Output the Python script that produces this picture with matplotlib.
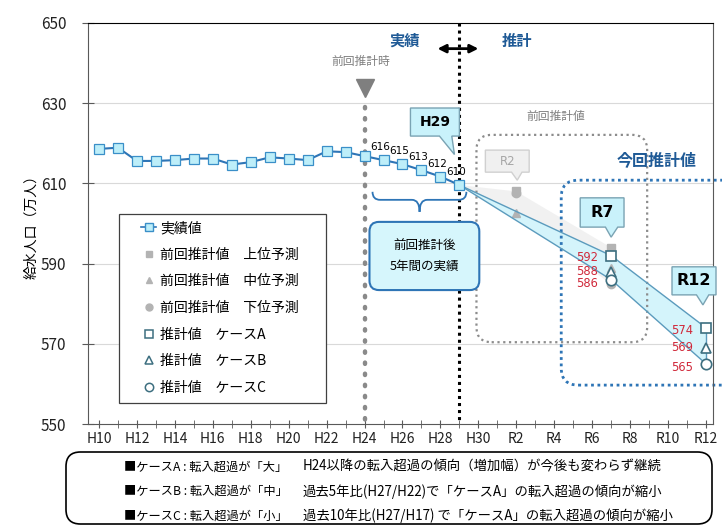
import numpy as np
import matplotlib.pyplot as plt
from matplotlib.patches import FancyBboxPatch, Polygon, PathPatch, Rectangle
from matplotlib.path import Path
from matplotlib.lines import Line2D

plt.rcParams['font.family'] = ['Noto Sans CJK JP', 'DejaVu Sans']

# actual values (H10 - H29)
actual_years = list(range(10, 30))
actual_vals = [618.6, 618.9, 615.6, 615.6, 615.8, 616.2, 616.2, 614.7, 615.3, 616.5,
               616.2, 615.8, 618.0, 617.8, 616.8, 615.8, 614.8, 613.3, 611.7, 609.6]
label_years = [25, 26, 27, 28, 29]
label_texts = ['616', '615', '613', '612', '610']

# previous estimate (R2, R7)
prev_years = [32, 37]
prev_upper = [608.0, 594.0]
prev_middle = [602.7, 588.8]
prev_lower = [607.6, 584.8]

# current estimate (start from H29 actual, R7, R12)
est_years = [29, 37, 42]
case_a = [609.6, 592, 574]
case_b = [609.6, 588, 569]
case_c = [609.6, 586, 565]

tick_pos = list(range(10, 43, 2))
tick_labels = ['H10', 'H12', 'H14', 'H16', 'H18', 'H20', 'H22', 'H24', 'H26', 'H28', 'H30',
               'R2', 'R4', 'R6', 'R8', 'R10', 'R12']

blue = '#2e75b6'
dark_blue = '#1f5a96'
cyan_fill = '#d4f4fb'
edge_teal = '#3d6f80'
red = '#d0283a'

fig = plt.figure(figsize=(7.22, 5.26), dpi=100)
ax = fig.add_axes([0.1219, 0.1939, 0.8656, 0.7624])
ax.set_xlim(9.42, 42.37)
ax.set_ylim(550, 650)

ax.set_yticks([550, 570, 590, 610, 630, 650])
ax.set_xticks(tick_pos)
ax.set_xticklabels(tick_labels)
ax.set_xticks(range(10, 43), minor=True)
ax.tick_params(axis='y', direction='inout', length=9, labelsize=11, pad=11, colors='#595959', labelcolor='#222222')
ax.tick_params(axis='x', which='both', direction='inout', length=6, labelsize=10, pad=3, colors='#595959', labelcolor='#222222')
for y in [570, 590, 610, 630]:
    ax.axhline(y, color='#d9d9d9', lw=0.8, zorder=0)
for s in ['left', 'bottom', 'right']:
    ax.spines[s].set_color('#595959')
ax.spines['top'].set_color('black')
ax.set_ylabel('給水人口（万人）', fontsize=10, labelpad=2)

# vertical reference lines
ax.plot([24, 24], [629, 550], color='#8a8a8a', lw=3.2, ls=(0, (0.3, 2.2)), solid_capstyle='round',
        dash_capstyle='round', zorder=2)
ax.plot([24.05], [633.8], marker='v', ms=13, color='#7f7f7f', zorder=3)
ax.text(23.8, 640.3, '前回推計時', fontsize=8.5, color='#7f7f7f', ha='center', va='center')
ax.plot([29, 29], [650, 550], color='black', lw=2.2, ls=(0, (1, 1.3)), zorder=4)

ax.text(26.1, 645.5, '実績', fontsize=11, color=dark_blue, fontweight='bold', ha='center', va='center')
ax.text(32.05, 645.5, '推計', fontsize=11, color=dark_blue, fontweight='bold', ha='center', va='center')
ax.annotate('', xy=(30.15, 643.6), xytext=(27.7, 643.6),
            arrowprops=dict(arrowstyle='<|-|>', lw=2, color='black', mutation_scale=12))

# previous estimate band + points
ax.fill([29] + prev_years + prev_years[::-1] + [29],
        [case_a[0]] + prev_upper + [prev_lower[1], prev_middle[0]] + [case_a[0]],
        color='#eeeeee', alpha=0.8, zorder=1, lw=0)
ax.plot(prev_years, prev_upper, 's', ms=6, color='#b3b3b3', zorder=3)
ax.plot(prev_years, prev_middle, '^', ms=6, color='#b3b3b3', zorder=3)
ax.plot(prev_years, prev_lower, 'o', ms=6, color='#b3b3b3', zorder=3)

# current estimate band
ax.fill(est_years + est_years[::-1], case_a + case_c[::-1], color=cyan_fill, zorder=2, lw=0)
ax.plot(est_years, case_a, color='#5b9bbd', lw=1, zorder=3)
ax.plot(est_years, case_c, color='#5b9bbd', lw=1, zorder=3)
ax.plot([est_years[-1]] * 2, [case_a[-1], case_c[-1]], color='#5b9bbd', lw=1, zorder=3)
ax.plot(est_years[1:], case_a[1:], 's', ms=7.5, mfc='white', mec=edge_teal, mew=1.2, zorder=5)
ax.plot(est_years[1:], case_b[1:], '^', ms=7.5, mfc='white', mec=edge_teal, mew=1.2, zorder=5)
ax.plot(est_years[1:], case_c[1:], 'o', ms=7.5, mfc='white', mec=edge_teal, mew=1.2, zorder=5)
for vals, dy in [(case_a, -0.6), (case_b, 0), (case_c, -0.9)]:
    for x, v in zip(est_years[1:], vals[1:]):
        ax.text(x - 0.7, v + dy, f'{v:.0f}', fontsize=8.3, color=red, ha='right', va='center', zorder=6,
                family='DejaVu Sans')

# actual series
ax.plot(actual_years, actual_vals, color=blue, lw=1.5, marker='s', ms=6.5, mfc='#bdeef9', mec='#3a8fc8',
        mew=0.9, zorder=6)
for yr, t in zip(label_years, label_texts):
    v = actual_vals[actual_years.index(yr)]
    ax.annotate(t, (yr, v), xytext=(-3, 13), textcoords='offset pixels', fontsize=7.5, ha='center',
                va='center', family='DejaVu Sans', zorder=7)

# dotted rounded boxes
asp = 19 / 4.01
ax.add_patch(FancyBboxPatch((29.9, 570.4), 9.0, 51.7, boxstyle='round,pad=0,rounding_size=0.8',
                            mutation_aspect=asp, fc='none', ec='#8c8c8c', lw=1.6, ls=(0, (1, 1.6)), zorder=2))
ax.text(34.1, 626.6, '前回推計値', fontsize=8.5, color='#7f7f7f', ha='center', va='center')
ax.add_patch(FancyBboxPatch((34.37, 559.7), 10.0, 51.1, boxstyle='round,pad=0,rounding_size=0.9',
                            mutation_aspect=asp, fc='none', ec=blue, lw=2, ls=(0, (1, 1.3)), zorder=2,
                            clip_on=False))
ax.text(39.4, 615.8, '今回推計値', fontsize=11.5, color=dark_blue, fontweight='bold', ha='center', va='center',
        zorder=7)


def callout(x0, x1, y0, y1, bx0, bx1, tip, text, fc, ec, tc, size, weight):
    pts = [(x0, y0), (bx0, y0), tip, (bx1, y0), (x1, y0), (x1, y1), (x0, y1)]
    ax.add_patch(Polygon(pts, closed=True, fc=fc, ec=ec, lw=1, zorder=8, clip_on=False))
    ax.text((x0 + x1) / 2, (y0 + y1) / 2, text, fontsize=size, fontweight=weight, color=tc,
            ha='center', va='center', zorder=9, family='DejaVu Sans')


callout(26.42, 29.0, 621.8, 628.8, 27.95, 28.6, (28.74, 617.2), 'H29', '#c9f2fb', '#7aa3b3', 'black', 10, 'bold')
callout(30.37, 32.68, 612.8, 618.3, 31.75, 32.3, (32.05, 610.8), 'R2', '#f0f0f0', '#d0d0d0', '#a6a6a6', 8.5, 'normal')
callout(35.37, 37.68, 599.1, 606.4, 36.7, 37.35, (37.0, 596.6), 'R7', '#c9f2fb', '#7aa3b3', 'black', 11.5, 'bold')
callout(40.21, 42.53, 582.2, 589.2, 41.5, 42.15, (41.84, 579.7), 'R12', '#c9f2fb', '#7aa3b3', 'black', 11.5, 'bold')

# brace + box for last 5 years
xl, xc, xr = 24.42, 26.9, 29.37
yt, ym, yb = 607.9, 605.9, 602.9
verts = [(xl, yt), (xl, ym), (xl + 0.4, ym), (xc - 0.4, ym), (xc, ym), (xc, yb),
         (xc, ym), (xc + 0.4, ym), (xr - 0.4, ym), (xr, ym), (xr, yt)]
codes = [Path.MOVETO, Path.CURVE3, Path.CURVE3, Path.LINETO, Path.CURVE3, Path.CURVE3,
         Path.CURVE3, Path.CURVE3, Path.LINETO, Path.CURVE3, Path.CURVE3]
ax.add_patch(PathPatch(Path(verts, codes), fc='none', ec=blue, lw=1.3, zorder=5))
ax.add_patch(FancyBboxPatch((24.26, 583.4), 5.79, 17.0, boxstyle='round,pad=0,rounding_size=0.5',
                            mutation_aspect=asp, fc='#d6f6fc', ec=blue, lw=1.5, zorder=8))
ax.text(27.16, 591.9, '前回推計後\n5年間の実績', fontsize=9, ha='center', va='center', linespacing=1.8, zorder=9)

# legend (frame drawn separately)
ax.add_patch(Rectangle((119 / 722, 1 - 403 / 526), 207 / 722, 189 / 526, transform=fig.transFigure,
                       fc='white', ec='#404040', lw=0.9, zorder=9, clip_on=False))
handles = [
    Line2D([], [], color=blue, lw=1.2, marker='s', ms=6, mfc='#bdeef9', mec='#3a8fc8'),
    Line2D([], [], ls='none', marker='s', ms=5, color='#b3b3b3'),
    Line2D([], [], ls='none', marker='^', ms=5, color='#b3b3b3'),
    Line2D([], [], ls='none', marker='o', ms=5, color='#b3b3b3'),
    Line2D([], [], ls='none', marker='s', ms=6, mfc='white', mec=edge_teal, mew=1.1),
    Line2D([], [], ls='none', marker='^', ms=6, mfc='white', mec=edge_teal, mew=1.1),
    Line2D([], [], ls='none', marker='o', ms=6, mfc='white', mec=edge_teal, mew=1.1),
]
labels = ['実績値', '前回推計値　上位予測', '前回推計値　中位予測', '前回推計値　下位予測',
          '推計値　ケースA', '推計値　ケースB', '推計値　ケースC']
leg = ax.legend(handles, labels, loc='upper left', bbox_to_anchor=(141 / 722, 1 - 221 / 526),
                bbox_transform=fig.transFigure, fontsize=10, frameon=False,
                handlelength=1.1, handletextpad=0.3, labelspacing=0.91,
                borderpad=0, borderaxespad=0)
leg.set_zorder(10)

# explanation box at bottom
fig.patches.append(FancyBboxPatch((66 / 722, 2 / 526), 646 / 722, 72 / 526,
                                  boxstyle='round,pad=0,rounding_size=0.02', transform=fig.transFigure,
                                  fc='white', ec='black', lw=1.2, mutation_aspect=722 / 526))
notes_left = ['■ケースA : 転入超過が「大」', '■ケースB : 転入超過が「中」', '■ケースC : 転入超過が「小」']
notes_right = ['H24以降の転入超過の傾向（増加幅）が今後も変わらず継続',
               '過去5年比(H27/H22)で「ケースA」の転入超過の傾向が縮小',
               '過去10年比(H27/H17) で「ケースA」の転入超過の傾向が縮小']
for i, (l, r) in enumerate(zip(notes_left, notes_right)):
    yy = 1 - (467 + 24.5 * i) / 526
    fig.text(124 / 722, yy, l, fontsize=8.8, va='center')
    fig.text(303 / 722, yy, r, fontsize=9.6, va='center')

fig.savefig('out.png', dpi=100)
